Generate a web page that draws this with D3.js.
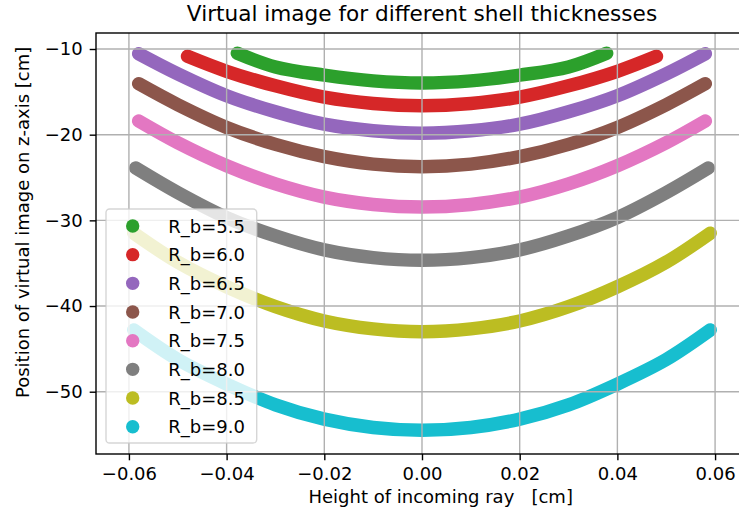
<!DOCTYPE html>
<html>
<head>
<meta charset="utf-8">
<script src="https://cdn.jsdelivr.net/npm/d3@7"></script>
<style>
  html, body { margin: 0; padding: 0; background: #fff; }
  svg { display: block; font-family: "DejaVu Sans", sans-serif; }
</style>
</head>
<body>
<svg id="chart" width="739" height="523"></svg>
<script>
// Virtual image position along z for rays of given height, per shell radius R_b
const seriesLabels = ["R_b=5.5", "R_b=6.0", "R_b=6.5", "R_b=7.0", "R_b=7.5", "R_b=8.0", "R_b=8.5", "R_b=9.0"];
const seriesColors = ["#2ca02c", "#d62728", "#9467bd", "#8c564b", "#e377c2", "#7f7f7f", "#bcbd22", "#17becf"];

const h55 = [-0.0378, -0.03, -0.02, -0.01, 0, 0.01, 0.02, 0.03, 0.0378];
const z55 = [-10.5, -12.1, -13.05, -13.72, -13.97, -13.72, -13.05, -12.1, -10.5];

const h60 = [-0.048, -0.04, -0.03, -0.02, -0.01, 0, 0.01, 0.02, 0.03, 0.04, 0.048];
const z60 = [-10.85, -12.6, -14.3, -15.62, -16.35, -16.61, -16.35, -15.62, -14.3, -12.6, -10.85];

const h65 = [-0.058, -0.05, -0.04, -0.03, -0.02, -0.01, 0, 0.01, 0.02, 0.03, 0.04, 0.05, 0.058];
const z65 = [-10.55, -12.9, -15.45, -17.33, -18.78, -19.55, -19.84, -19.55, -18.78, -17.33, -15.45, -12.9, -10.55];

const h70 = [-0.058, -0.05, -0.04, -0.03, -0.02, -0.01, 0, 0.01, 0.02, 0.03, 0.04, 0.05, 0.058];
const z70 = [-14.05, -16.5, -19.15, -21.13, -22.56, -23.44, -23.73, -23.44, -22.56, -21.13, -19.15, -16.5, -14.05];

const h75 = [-0.058, -0.05, -0.04, -0.03, -0.02, -0.01, 0, 0.01, 0.02, 0.03, 0.04, 0.05, 0.058];
const z75 = [-18.4, -20.94, -23.62, -25.74, -27.28, -28.14, -28.44, -28.14, -27.28, -25.74, -23.62, -20.94, -18.4];

const h80 = [-0.0586, -0.05, -0.04, -0.03, -0.02, -0.01, 0, 0.01, 0.02, 0.03, 0.04, 0.05, 0.0586];
const z80 = [-23.9, -26.77, -29.68, -31.82, -33.45, -34.35, -34.67, -34.35, -33.45, -31.82, -29.68, -26.77, -23.9];

const h85 = [-0.059, -0.05, -0.04, -0.03, -0.02, -0.01, 0, 0.01, 0.02, 0.03, 0.04, 0.05, 0.059];
const z85 = [-31.5, -34.88, -37.75, -40.08, -41.75, -42.67, -43.0, -42.67, -41.75, -40.08, -37.75, -34.88, -31.5];

const h90 = [-0.059, -0.05, -0.04, -0.03, -0.02, -0.01, 0, 0.01, 0.02, 0.03, 0.04, 0.05, 0.059];
const z90 = [-42.8, -46.24, -49.1, -51.53, -53.2, -54.17, -54.5, -54.17, -53.2, -51.53, -49.1, -46.24, -42.8];

const heightsBySeries = [h55, h60, h65, h70, h75, h80, h85, h90];
const positionsBySeries = [z55, z60, z65, z70, z75, z80, z85, z90];

const xTicks = [-0.06, -0.04, -0.02, 0.00, 0.02, 0.04, 0.06];
const yTicks = [-50, -40, -30, -20, -10];

const titleText = "Virtual image for different shell thicknesses";
const xLabelText = "Height of incoming ray   [cm]";
const yLabelText = "Position of virtual image on z-axis [cm]";

// ---- layout ----
const plot = { left: 96, top: 33, right: 748, bottom: 454 };
const xDomain = [-0.06674, 0.06674];
const yDomain = [-57.27, -8.1325];

const svg = d3.select("#chart");
const x = d3.scaleLinear().domain(xDomain).range([plot.left, plot.right]);
const y = d3.scaleLinear().domain(yDomain).range([plot.bottom, plot.top]);

const fmtX = d => d3.format(".2f")(d).replace("-", "\u2212");
const fmtY = d => String(d).replace("-", "\u2212");

svg.append("defs").append("clipPath").attr("id", "plotClip")
  .append("rect")
  .attr("x", plot.left).attr("y", plot.top)
  .attr("width", plot.right - plot.left).attr("height", plot.bottom - plot.top);

// ---- curves ----
const line = d3.line()
  .x(d => x(d[0]))
  .y(d => y(d[1]))
  .curve(d3.curveCatmullRom.alpha(0.5));

const curves = svg.append("g").attr("clip-path", "url(#plotClip)");
seriesLabels.forEach((lab, i) => {
  const pts = heightsBySeries[i].map((h, j) => [h, positionsBySeries[i][j]]);
  curves.append("path")
    .attr("d", line(pts))
    .attr("fill", "none")
    .attr("stroke", seriesColors[i])
    .attr("stroke-width", 13.5)
    .attr("stroke-linecap", "round")
    .attr("stroke-linejoin", "round");
});

// ---- grid (drawn above the curves) ----
const grid = svg.append("g").attr("clip-path", "url(#plotClip)");
xTicks.forEach(t => {
  grid.append("line")
    .attr("x1", x(t)).attr("x2", x(t))
    .attr("y1", plot.top).attr("y2", plot.bottom)
    .attr("stroke", "#b0b0b0").attr("stroke-width", 1.4);
});
yTicks.forEach(t => {
  grid.append("line")
    .attr("x1", plot.left).attr("x2", plot.right)
    .attr("y1", y(t)).attr("y2", y(t))
    .attr("stroke", "#b0b0b0").attr("stroke-width", 1.4);
});

// ---- axes ----
const xAxis = svg.append("g")
  .attr("transform", `translate(0,${plot.bottom})`)
  .call(d3.axisBottom(x).tickValues(xTicks).tickFormat(fmtX).tickSize(6.3).tickPadding(7));
const yAxis = svg.append("g")
  .attr("transform", `translate(${plot.left},0)`)
  .call(d3.axisLeft(y).tickValues(yTicks).tickFormat(fmtY).tickSize(6.3).tickPadding(7));

[xAxis, yAxis].forEach(a => {
  a.select(".domain").remove();
  a.selectAll(".tick line").attr("stroke", "#000").attr("stroke-width", 1.4);
  a.selectAll(".tick text")
    .attr("fill", "#000")
    .style("font-family", "'DejaVu Sans', sans-serif")
    .style("font-size", "18px");
});

// frame
svg.append("rect")
  .attr("x", plot.left).attr("y", plot.top)
  .attr("width", plot.right - plot.left).attr("height", plot.bottom - plot.top)
  .attr("fill", "none").attr("stroke", "#000").attr("stroke-width", 1.4);

// ---- titles ----
svg.append("text")
  .attr("x", (plot.left + plot.right) / 2).attr("y", 21)
  .attr("text-anchor", "middle")
  .style("font-size", "21.6px")
  .attr("fill", "#000")
  .text(titleText);

svg.append("text")
  .attr("x", 308.5).attr("y", 503)
  .attr("text-anchor", "start")
  .style("font-size", "18px")
  .style("white-space", "pre")
  .attr("xml:space", "preserve")
  .attr("fill", "#000")
  .text(xLabelText);

svg.append("text")
  .attr("transform", "translate(29,398) rotate(-90)")
  .attr("text-anchor", "start")
  .style("font-size", "18px")
  .attr("fill", "#000")
  .text(yLabelText);

// ---- legend ----
const legend = svg.append("g");
const lg = { x: 106, y: 209, w: 150.7, h: 234 };
legend.append("rect")
  .attr("x", lg.x).attr("y", lg.y).attr("width", lg.w).attr("height", lg.h)
  .attr("rx", 3.6).attr("ry", 3.6)
  .attr("fill", "#fff").attr("fill-opacity", 0.8)
  .attr("stroke", "#cccccc").attr("stroke-opacity", 0.8).attr("stroke-width", 1.4);

const rowY = d3.scalePoint().domain(seriesLabels).range([226, 426.7]);
seriesLabels.forEach((lab, i) => {
  legend.append("circle")
    .attr("cx", 132.7).attr("cy", rowY(lab)).attr("r", 6.7)
    .attr("fill", seriesColors[i]);
  legend.append("text")
    .attr("x", 168.3).attr("y", rowY(lab) + 6.5)
    .style("font-size", "18px")
    .attr("fill", "#000")
    .text(lab);
});
</script>
</body>
</html>
